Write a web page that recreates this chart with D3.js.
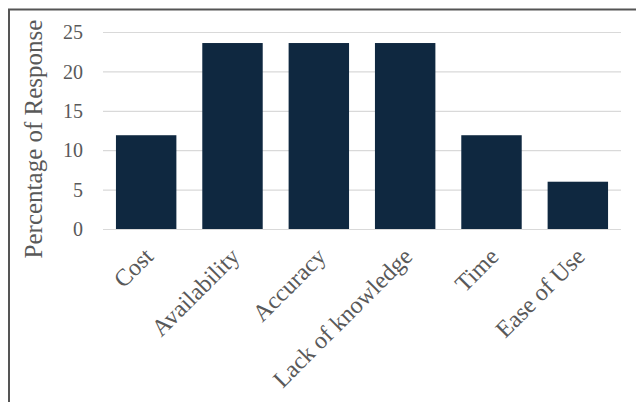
<!DOCTYPE html>
<html>
<head>
<meta charset="utf-8">
<script src="https://cdn.jsdelivr.net/npm/d3@7"></script>
<style>
  html, body { margin: 0; padding: 0; background: #fff; }
  svg { display: block; }
</style>
</head>
<body>
<script>
// Survey responses: share of respondents citing each barrier
const categories = ["Cost", "Availability", "Accuracy", "Lack of knowledge", "Time", "Ease of Use"];
const values = [11.9, 23.6, 23.6, 23.6, 11.9, 6.0];
const yTicks = [0, 5, 10, 15, 20, 25];
const yTitle = "Percentage of Response";

const W = 636, H = 402;
const margin = { top: 32, right: 15, bottom: 173, left: 103 };
const font = "'Liberation Serif', 'Times New Roman', serif";
const textColor = "#595959";

const svg = d3.select("body").append("svg")
  .attr("width", W).attr("height", H);

svg.append("rect").attr("width", W).attr("height", H).attr("fill", "#fff");

const x = d3.scaleBand()
  .domain(categories)
  .range([margin.left, W - margin.right])
  .paddingInner(0.3)
  .paddingOuter(0.15);

const y = d3.scaleLinear()
  .domain([0, 25])
  .range([H - margin.bottom, margin.top]);

// Horizontal gridlines
svg.append("g")
  .selectAll("line")
  .data(yTicks)
  .join("line")
  .attr("x1", margin.left)
  .attr("x2", W - margin.right)
  .attr("y1", d => y(d) + 0.5)
  .attr("y2", d => y(d) + 0.5)
  .attr("stroke", "#d9d9d9")
  .attr("stroke-width", 1.2);

// Y axis tick labels
const yAxis = d3.axisLeft(y).tickValues(yTicks).tickSize(0).tickPadding(0);
const gy = svg.append("g")
  .attr("transform", `translate(${margin.left - 20},0)`)
  .call(yAxis);
gy.select(".domain").remove();
gy.selectAll("text")
  .attr("font-family", font)
  .attr("font-size", 20)
  .attr("fill", textColor)
  .attr("dy", "0.33em");

// Bars
svg.append("g")
  .selectAll("rect")
  .data(values)
  .join("rect")
  .attr("x", (d, i) => x(categories[i]))
  .attr("width", x.bandwidth())
  .attr("y", d => y(d))
  .attr("height", d => y(0) - y(d))
  .attr("fill", "#0f2840");

// Category labels, rotated
svg.append("g")
  .selectAll("text")
  .data(categories)
  .join("text")
  .attr("transform", d => `translate(${x(d) + x.bandwidth() / 2 + 8.5},${y(0) + 29}) rotate(-45)`)
  .attr("text-anchor", "end")
  .attr("font-family", font)
  .attr("font-size", 24)
  .attr("fill", textColor)
  .text(d => d);

// Y axis title
svg.append("text")
  .attr("transform", `translate(42,${139}) rotate(-90)`)
  .attr("text-anchor", "middle")
  .attr("font-family", font)
  .attr("font-size", 25)
  .attr("fill", textColor)
  .text(yTitle);

// Frame
svg.append("path")
  .attr("d", `M9,${H} L9,9.5 L${W},9.5`)
  .attr("fill", "none")
  .attr("stroke", "#555")
  .attr("stroke-width", 2);
</script>
</body>
</html>
